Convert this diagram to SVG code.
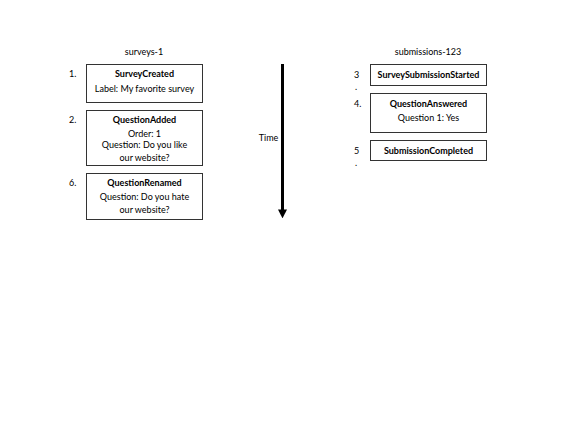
<svg xmlns="http://www.w3.org/2000/svg" width="568" height="426" viewBox="0 0 568 426">
<style>
text{font-family:Lato,"Noto Sans",sans-serif;font-size:9px;fill:#000;text-anchor:middle}
.b{font-weight:bold}
.n{text-anchor:start}
rect{fill:#fff;stroke:#333;stroke-width:1}
</style>
<defs>
<marker id="ah" viewBox="0 0 10 10" refX="4" refY="5" markerWidth="3" markerHeight="3" orient="auto">
<path d="M0,0 L10,5 L0,10 z" fill="#000"/>
</marker>
</defs>
<rect x="0" y="0" width="568" height="426" style="fill:#fff;stroke:none"/>
<text x="144" y="55">surveys-1</text>
<text x="428" y="55">submissions-123</text>
<g id="surveyCreated">
<text class="n" x="69" y="77">1.</text>
<rect x="86.5" y="64.5" width="116" height="38"/>
<text class="b" x="144.5" y="77">SurveyCreated</text>
<text x="144.5" y="92">Label: My favorite survey</text>
</g>
<g id="questionAdded">
<text class="n" x="69" y="123">2.</text>
<rect x="86.5" y="110.5" width="116" height="55"/>
<text class="b" x="144.5" y="123">QuestionAdded</text>
<text x="144.5" y="137">Order: 1</text>
<text x="144.5" y="148">Question: Do you like</text>
<text x="144.5" y="161">our website?</text>
</g>
<g id="questionRenamed">
<text class="n" x="69" y="186">6.</text>
<rect x="86.5" y="173.5" width="116" height="46"/>
<text class="b" x="144.5" y="186">QuestionRenamed</text>
<text x="144.5" y="200">Question: Do you hate</text>
<text x="144.5" y="213">our website?</text>
</g>
<g id="surveySubmissionStarted">
<text class="n" x="354" y="78">3</text>
<text class="n" x="355" y="90">.</text>
<rect x="370.5" y="64.5" width="116" height="21"/>
<text class="b" x="428.5" y="78">SurveySubmissionStarted</text>
</g>
<g id="questionAnswered">
<text class="n" x="354" y="107">4.</text>
<rect x="370.5" y="93.5" width="116" height="39"/>
<text class="b" x="428.5" y="107">QuestionAnswered</text>
<text x="428.5" y="121">Question 1: Yes</text>
</g>
<g id="submissionCompleted">
<text class="n" x="354" y="154">5</text>
<text class="n" x="355" y="166">.</text>
<rect x="370.5" y="140.5" width="116" height="20"/>
<text class="b" x="428.5" y="154">SubmissionCompleted</text>
</g>
<g id="connectors">
<line x1="282.5" y1="64" x2="282.5" y2="213" stroke="#000" stroke-width="3" marker-end="url(#ah)"/>
<text x="268.5" y="141">Time</text>
</g>
</svg>
